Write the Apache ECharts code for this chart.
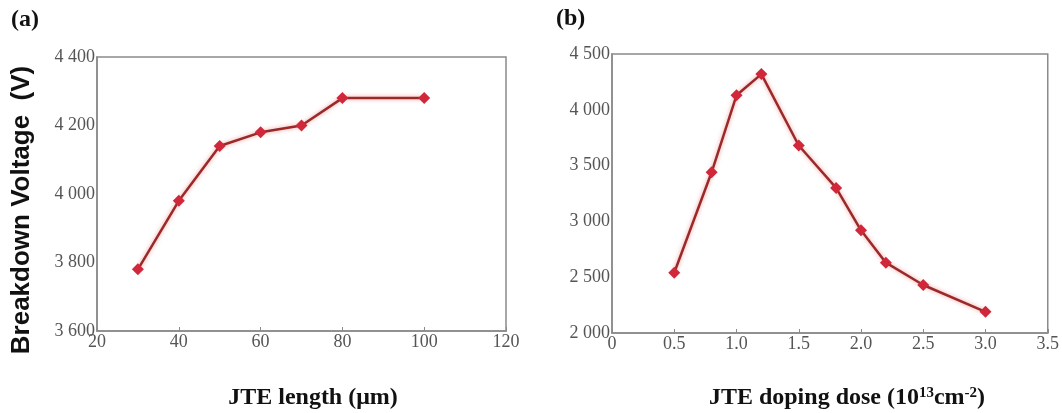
<!DOCTYPE html>
<html>
<head>
<meta charset="utf-8">
<script src="https://cdn.jsdelivr.net/npm/echarts@6/dist/echarts.min.js"></script>
<style>
  html, body { margin: 0; padding: 0; background: #fff; }
  #chart { width: 1062px; height: 413px; }
</style>
</head>
<body>
<div id="chart"></div>
<script>
// panel (a): breakdown voltage vs JTE length
const lengthUm = [30, 40, 50, 60, 70, 80, 100];
const voltageA = [3780, 3980, 4140, 4180, 4200, 4280, 4280];

// panel (b): breakdown voltage vs JTE doping dose
const doseE13 = [0.5, 0.8, 1.0, 1.2, 1.5, 1.8, 2.0, 2.2, 2.5, 3.0];
const voltageB = [2540, 3440, 4130, 4320, 3680, 3300, 2920, 2630, 2430, 2190];

const serif = '"Liberation Serif", "DejaVu Serif", serif';
const axisGray = '#8a8a8a';
const labelGray = '#555';

function thousands(v) {
  return String(v).replace(/\B(?=(\d{3})+(?!\d))/g, ' ');
}

function xAxisOf(gridIndex, min, max, interval, fmt) {
  return {
    type: 'value', gridIndex, min, max, interval,
    axisLine: { show: true, onZero: false, lineStyle: { color: axisGray, width: 1.5 } },
    axisTick: { show: true, inside: true, length: 4, lineStyle: { color: axisGray } },
    splitLine: { show: false },
    axisLabel: { color: labelGray, fontFamily: serif, fontSize: 18, margin: 2, formatter: fmt }
  };
}

function yAxisOf(gridIndex, min, max, interval) {
  return {
    type: 'value', gridIndex, min, max, interval,
    axisLine: { show: true, lineStyle: { color: axisGray, width: 1.5 } },
    axisTick: { show: false },
    splitLine: { show: false },
    axisLabel: { color: labelGray, fontFamily: serif, fontSize: 18, margin: 2, formatter: thousands }
  };
}

function lineSeries(idx, xs, ys) {
  return {
    type: 'line', xAxisIndex: idx, yAxisIndex: idx,
    data: xs.map((x, i) => [x, ys[i]]),
    symbol: 'diamond', symbolSize: 12,
    lineStyle: { color: '#9a2a2a', width: 2.5, shadowColor: 'rgba(230,60,60,0.5)', shadowBlur: 4 },
    itemStyle: { color: '#d0283a' }
  };
}

const option = {
  animation: false,
  grid: [
    { left: 97, top: 57, width: 409, height: 274, show: true, borderColor: axisGray, borderWidth: 1.5, backgroundColor: '#fff' },
    { left: 612, top: 54, width: 438, height: 279, show: true, borderColor: axisGray, borderWidth: 1.5, backgroundColor: '#fff' }
  ],
  xAxis: [
    xAxisOf(0, 20, 120, 20, v => String(v)),
    xAxisOf(1, 0, 3.5, 0.5, v => (v === 0 ? '0' : v.toFixed(1)))
  ],
  yAxis: [
    yAxisOf(0, 3600, 4400, 200),
    yAxisOf(1, 2000, 4500, 500)
  ],
  series: [
    lineSeries(0, lengthUm, voltageA),
    lineSeries(1, doseE13, voltageB)
  ],
  graphic: [
    { type: 'text', left: 11, top: 8, style: { text: '(a)', font: 'bold 24px ' + serif, fill: '#111' } },
    { type: 'text', left: 556, top: 7, style: { text: '(b)', font: 'bold 24px ' + serif, fill: '#111' } },
    {
      type: 'text', x: 22, y: 210, rotation: Math.PI / 2,
      style: { text: 'Breakdown Voltage  (V)', font: 'bold 26px "Liberation Sans", Arial, sans-serif', fill: '#111', align: 'center', verticalAlign: 'middle' }
    },
    {
      type: 'text', x: 313, y: 398,
      style: { text: 'JTE length (μm)', font: 'bold 24px ' + serif, fill: '#111', align: 'center', verticalAlign: 'middle' }
    },
    {
      type: 'text', x: 847, y: 398,
      style: {
        text: '{b|JTE doping dose (10}{s|13}{b|cm}{s|-2}{b|)}',
        align: 'center', verticalAlign: 'middle',
        rich: {
          b: { font: 'bold 24px ' + serif, fill: '#111', color: '#111' },
          s: { font: 'bold 15px ' + serif, fill: '#111', color: '#111', verticalAlign: 'top', padding: [0, 0, 10, 0] }
        }
      }
    }
  ]
};

const chart = echarts.init(document.getElementById('chart'));
chart.setOption(option);
window.addEventListener('resize', () => chart.resize());
</script>
</body>
</html>
